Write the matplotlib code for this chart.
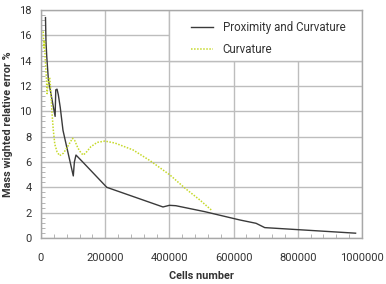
import matplotlib
matplotlib.use("Agg")
import matplotlib.pyplot as plt
import matplotlib.patches as patches
from matplotlib.ticker import AutoMinorLocator, MultipleLocator

plt.rcParams['font.family'] = ['Roboto', 'DejaVu Sans']

# Proximity and Curvature (cells, error %)
prox_x = [14000, 15500, 18000, 23000, 33000, 44000, 46000, 50000, 54000, 60000,
          68500, 80000, 100600, 104000, 109000, 130000, 205000, 380000, 400000,
          420000, 510000, 620000, 670000, 697000, 980000]
prox_y = [17.4, 15.5, 14.3, 12.5, 11.1, 9.6, 11.7, 11.75, 11.3, 10.3,
          8.5, 7.2, 4.9, 6.0, 6.55, 6.0, 4.0, 2.45, 2.58,
          2.55, 2.08, 1.42, 1.16, 0.82, 0.38]

# Curvature
curv_x = [7000, 9000, 11000, 13000, 16000, 19000, 23000, 27000, 30000, 34000,
          38000, 43000, 50000, 58000, 70000, 85000, 98000, 105000, 115000,
          125000, 132000, 142000, 155000, 175000, 199000, 230000, 287000,
          340000, 402000, 450000, 495000, 531000]
curv_y = [16.3, 15.0, 15.6, 14.2, 13.0, 11.4, 12.4, 12.7, 11.8, 10.0,
          8.6, 7.4, 6.8, 6.5, 6.7, 7.3, 7.87, 7.7, 7.1,
          6.7, 6.55, 6.8, 7.2, 7.55, 7.65, 7.5, 6.95,
          6.1, 4.97, 3.9, 3.0, 2.2]

labels = ['Proximity and Curvature', 'Curvature']
grid_col = '#bdbdbd'
text_col = '#333333'

fig = plt.figure(figsize=(3.86, 2.84), dpi=100)
ax = fig.add_axes([41/386, 46/284, 321/386, 228/284])

ax.set_xlim(0, 1000000)
ax.set_ylim(0, 18)
ax.xaxis.set_major_locator(MultipleLocator(200000))
ax.yaxis.set_major_locator(MultipleLocator(2))
ax.xaxis.set_minor_locator(AutoMinorLocator(5))
ax.yaxis.set_minor_locator(AutoMinorLocator(5))
ax.set_axisbelow(True)
ax.grid(True, which='major', color=grid_col, linewidth=1)

for s in ax.spines.values():
    s.set_color('#a8a8a8')
    s.set_linewidth(1)

ax.tick_params(which='both', direction='in', color='#a8a8a8', labelcolor=text_col,
               labelsize=8)
ax.tick_params(which='major', length=0)
ax.tick_params(which='minor', length=3)
ax.tick_params(axis='x', pad=10.5)
ax.tick_params(axis='y', pad=6.5)
ax.xaxis.set_major_formatter(plt.FuncFormatter(lambda v, p: '%d' % v))

# white box for legend, covering the top-right grid cell
box = patches.Rectangle((0.4, 14/18), 0.6, 4/18, transform=ax.transAxes,
                        facecolor='white', edgecolor=grid_col, linewidth=1, zorder=1)
ax.add_patch(box)

ax.plot(prox_x, prox_y, color='#3a3a3a', linewidth=1, label=labels[0], zorder=3)
ax.plot(curv_x, curv_y, color='#c6d92a', linewidth=1.1, linestyle=(0, (1, 1)),
        label=labels[1], zorder=3)

leg = ax.legend(loc='center left', bbox_to_anchor=(0.467, 0.877), frameon=False,
                borderpad=0, borderaxespad=0, handlelength=1.9, handletextpad=0.85,
                labelspacing=0.78, fontsize=8.3)
for t in leg.get_texts():
    t.set_color(text_col)

ax.set_xlabel('Cells number', fontsize=7.8, fontweight='bold', color=text_col, labelpad=6)
ax.set_ylabel('Mass wighted relative error %', fontsize=7.8, fontweight='bold',
              color=text_col, labelpad=5)

fig.savefig('out.png', dpi=100)
